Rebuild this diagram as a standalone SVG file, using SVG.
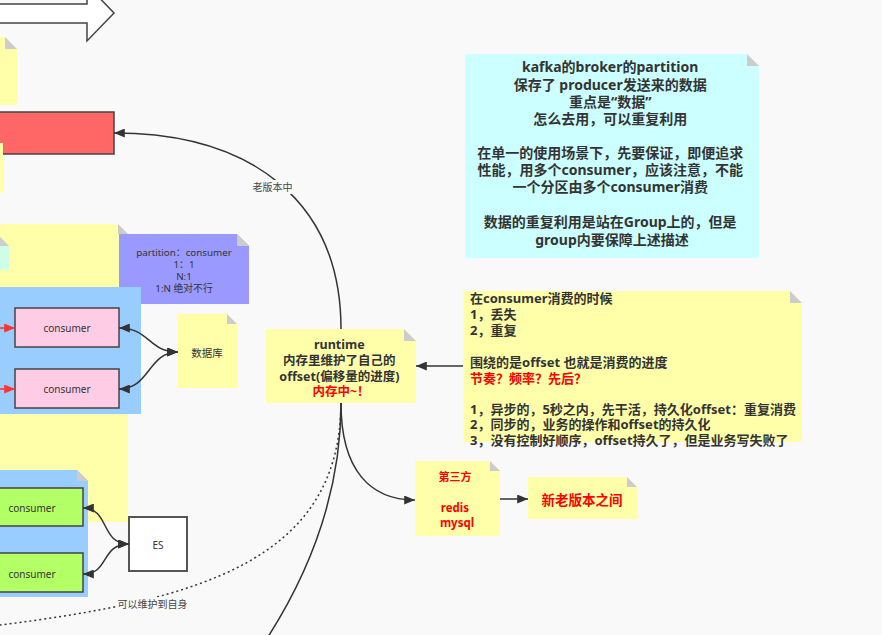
<svg xmlns="http://www.w3.org/2000/svg" width="882" height="635" viewBox="0 0 882 635">
<defs>
<style>
.note{stroke:none}
.fold{fill:#cccccc}
.y{fill:#ffffaa}
.box{stroke:#444;stroke-width:1.5}
.con{fill:none;stroke:#333;stroke-width:1.5}
.b{font-family:"Noto Sans","Noto Sans CJK SC",sans-serif;font-weight:bold;fill:#333}
.s{font-family:"Noto Sans","Noto Sans CJK SC",sans-serif;fill:#333}
.red{fill:#ff0000}
.lbl{font-family:"Noto Sans CJK SC","Noto Sans",sans-serif;font-size:10px;fill:#444;text-anchor:middle}
</style>
<marker id="arr" viewBox="0 0 12 10" refX="12" refY="5" markerWidth="12" markerHeight="9" markerUnits="userSpaceOnUse" orient="auto-start-reverse"><path d="M0,0 L12,5 L0,10 z" fill="#333"/></marker>
<marker id="arrR" viewBox="0 0 12 10" refX="12" refY="5" markerWidth="12" markerHeight="9" markerUnits="userSpaceOnUse" orient="auto"><path d="M0,0 L12,5 L0,10 z" fill="#ff3333"/></marker>
</defs>
<rect x="0" y="0" width="882" height="635" fill="#f9f9f9"/>

<g id="bigArrow">
<polygon points="-5,4 87,4 87,-15 114,13 87,41 87,23 -5,23" fill="#ffffff" stroke="#444" stroke-width="1.5"/>
</g>

<g id="noteTopLeft">
<polygon class="note y" points="-40,37 5,37 17,49 17,105 -40,105"/>
<polygon class="fold" points="5,37 5,49 17,49"/>
</g>

<g id="redBox">
<rect x="-5" y="112" width="119" height="42" fill="#ff6666" class="box"/>
</g>

<g id="noteBelowRed">
<rect x="-60" y="143" width="63" height="50" class="y"/>
</g>

<g id="noteBigYellow">
<polygon class="note y" points="-60,224 118,224 128,234 128,522 -60,522"/>
<polygon class="fold" points="118,224 118,234 128,234"/>
</g>

<g id="noteCyanSmall">
<polygon class="note" fill="#ccffe6" points="-60,237 0,237 9,246 9,270 -60,270"/>
<polygon class="fold" points="0,237 0,246 9,246"/>
</g>

<g id="notePartition">
<polygon class="note" fill="#9999ff" points="119,234 237,234 249,246 249,304 119,304"/>
<polygon class="fold" points="237,234 237,246 249,246"/>
<text class="s" font-size="9.8" text-anchor="middle"><tspan x="184" y="256">partition：consumer</tspan><tspan x="184" y="268">1：1</tspan><tspan x="184" y="280">N:1</tspan><tspan x="184" y="292">1:N  绝对不行</tspan></text>
</g>

<g id="groupBlue1">
<rect x="-5" y="287" width="146" height="127" fill="#99ccff"/>
</g>

<g id="consumer1">
<rect x="15" y="308" width="104" height="39" fill="#ffcce6" class="box"/>
<text class="s" font-size="10" x="67" y="331.5" text-anchor="middle">consumer</text>
</g>
<g id="consumer2">
<rect x="15" y="369" width="104" height="39" fill="#ffcce6" class="box"/>
<text class="s" font-size="10" x="67" y="392.5" text-anchor="middle">consumer</text>
</g>

<g id="noteDb">
<polygon class="note y" points="178,314 227,314 237,324 237,388 178,388"/>
<polygon class="fold" points="227,314 227,324 237,324"/>
<text class="s" font-size="10.5" x="207" y="357" text-anchor="middle">数据库</text>
</g>

<g id="groupBlue2">
<polygon fill="#99ccff" points="-40,470 77,470 88,481 88,597 -40,597"/>
<polygon class="fold" points="77,470 77,481 88,481"/>
</g>

<g id="consumer3">
<rect x="-5" y="488" width="88" height="38" fill="#b3ff66" class="box"/>
<text class="s" font-size="10" x="32" y="511.5" text-anchor="middle">consumer</text>
</g>
<g id="consumer4">
<rect x="-5" y="553" width="88" height="39" fill="#b3ff66" class="box"/>
<text class="s" font-size="10" x="32" y="577.5" text-anchor="middle">consumer</text>
</g>

<g id="es">
<rect x="129" y="517" width="58" height="54" fill="#ffffff" stroke="#555" stroke-width="2"/>
<text class="s" font-size="10" x="158" y="548.5" text-anchor="middle">ES</text>
</g>

<g id="noteKafka">
<polygon class="note" fill="#ccffff" points="465,54 747,54 759,66 759,258 465,258"/>
<polygon class="fold" points="747,54 747,66 759,66"/>
<text class="b" font-size="14" text-anchor="middle">
<tspan x="612" y="72">kafka的broker的partition</tspan>
<tspan x="612" y="90">保存了 producer发送来的数据</tspan>
<tspan x="612" y="107">重点是“数据”</tspan>
<tspan x="612" y="124">怎么去用，可以重复利用</tspan>
<tspan x="612" y="158">在单一的使用场景下，先要保证，即便追求</tspan>
<tspan x="612" y="175">性能，用多个consumer，应该注意，不能</tspan>
<tspan x="612" y="192">一个分区由多个consumer消费</tspan>
<tspan x="612" y="227">数据的重复利用是站在Group上的，但是</tspan>
<tspan x="612" y="245">group内要保障上述描述</tspan>
</text>
</g>

<g id="noteConsume">
<polygon class="note y" points="463,291 790,291 802,303 802,442 463,442"/>
<polygon class="fold" points="790,291 790,303 802,303"/>
<text class="b" font-size="13">
<tspan x="470" y="302.5">在consumer消费的时候</tspan>
<tspan x="470" y="318.5">1，丢失</tspan>
<tspan x="470" y="334.5">2，重复</tspan>
<tspan x="470" y="366.5">围绕的是offset 也就是消费的进度</tspan>
<tspan x="470" y="382.5" class="red">节奏？频率？先后？</tspan>
<tspan x="470" y="413.5">1，异步的，5秒之内，先干活，持久化offset：重复消费</tspan>
<tspan x="470" y="429">2，同步的，业务的操作和offset的持久化</tspan>
<tspan x="470" y="444.5">3，没有控制好顺序，offset持久了，但是业务写失败了</tspan>
</text>
</g>

<g id="noteRuntime">
<polygon class="note y" points="266,329 404,329 416,341 416,403 266,403"/>
<polygon class="fold" points="404,329 404,341 416,341"/>
<text class="b" font-size="12.5" text-anchor="middle">
<tspan x="341" y="349">runtime</tspan>
<tspan x="341" y="365">内存里维护了自己的</tspan>
<tspan x="341" y="380.5">offset(偏移量的进度)</tspan>
<tspan x="341" y="395.5" class="red">内存中~！</tspan>
</text>
</g>

<g id="noteThird">
<polygon class="note y" points="415,461 490,461 500,471 500,536 415,536"/>
<polygon class="fold" points="490,461 490,471 500,471"/>
<text class="b red" text-anchor="middle">
<tspan x="457" y="481" font-size="11">第三方</tspan>
<tspan x="457" y="512" font-size="11.5">redis</tspan>
<tspan x="457" y="526.5" font-size="11.5">mysql</tspan>
</text>
</g>

<g id="noteVersions">
<polygon class="note y" points="528,477 627,477 637,487 637,519 528,519"/>
<polygon class="fold" points="627,477 627,487 637,487"/>
<text class="b red" font-size="13.5" x="582" y="504.5" text-anchor="middle">新老版本之间</text>
</g>

<g id="connectors">
<path d="M0,328 L15,328" stroke="#ff3333" stroke-width="1.5" fill="none" marker-end="url(#arrR)"/>
<path d="M0,389 L15,389" stroke="#ff3333" stroke-width="1.5" fill="none" marker-end="url(#arrR)"/>
<path class="con" d="M178,352 C148,352 150,328 119,328" marker-start="url(#arr)" marker-end="url(#arr)"/>
<path class="con" d="M178,352 C148,352 150,389 119,389" marker-start="url(#arr)" marker-end="url(#arr)"/>
<path class="con" d="M129,544 C100,544 110,508 83,508" marker-start="url(#arr)" marker-end="url(#arr)"/>
<path class="con" d="M129,544 C100,544 110,574 83,574" marker-start="url(#arr)" marker-end="url(#arr)"/>
<path class="con" d="M341,329 C341,200 250,133 114,133" marker-end="url(#arr)"/>
<path class="con" d="M463,366 L416,366" marker-end="url(#arr)"/>
<path class="con" d="M341,403 C341,470 370,500 415,500" marker-end="url(#arr)"/>
<path class="con" d="M500,499 L528,499" marker-end="url(#arr)"/>
<path class="con" d="M341,403 C341,495 308,575 266,640"/>
<path class="con" d="M341,403 C340,560 200,600 0,625" stroke-dasharray="2,3"/>
<rect x="252" y="180" width="41" height="14" fill="#f9f9f9"/>
<text class="lbl" x="272.5" y="191">老版本中</text>
<rect x="117" y="597" width="71" height="14" fill="#f9f9f9"/>
<text class="lbl" x="152.5" y="608">可以维护到自身</text>
</g>
</svg>
